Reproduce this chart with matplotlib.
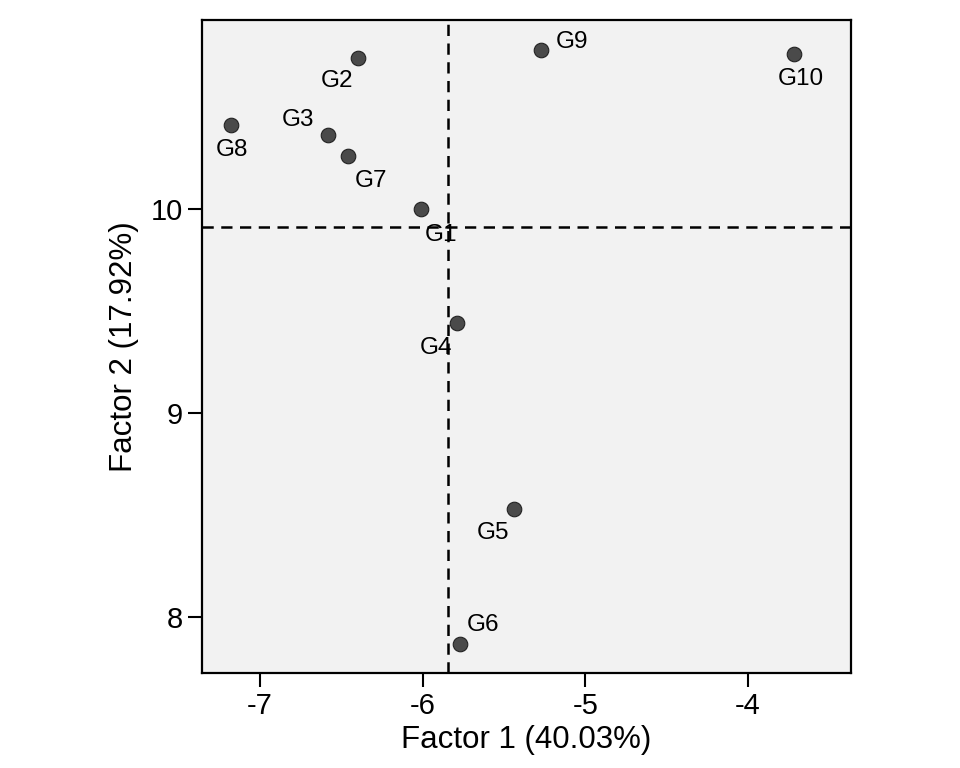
import matplotlib
matplotlib.use("Agg")
from matplotlib import pyplot as plt

plt.rcParams['font.family'] = ['Liberation Sans', 'DejaVu Sans']

genotypes = ['G1', 'G2', 'G3', 'G4', 'G5', 'G6', 'G7', 'G8', 'G9', 'G10']
factor1 = [-6.01, -6.40, -6.58, -5.79, -5.44, -5.77, -6.46, -7.18, -5.27, -3.72]
factor2 = [10.00, 10.74, 10.36, 9.44, 8.53, 7.87, 10.26, 10.41, 10.78, 10.76]
xLabel = 'Factor 1 (40.03%)'
yLabel = 'Factor 2 (17.92%)'
xMean = -5.846
yMean = 9.912

# label offsets in pixels (x right, y up)
labelShift = {'G1': (20, -26), 'G2': (-21, -23), 'G3': (-30, 15),
              'G4': (-21, -25), 'G5': (-21, -24), 'G6': (23, 19),
              'G7': (23, -25), 'G8': (1, -25), 'G9': (31, 8),
              'G10': (7, -25)}

fig = plt.figure(figsize=(9.6, 7.68), dpi=100)
ax = fig.add_axes([0.2104, 0.1237, 0.6761, 0.8503])
ax.set_facecolor('#f2f2f2')

ax.axvline(xMean, color='black', lw=1.8, ls=(0, (4.5, 3)), zorder=1)
ax.axhline(yMean, color='black', lw=1.8, ls=(0, (4.5, 3)), zorder=1)

ax.scatter(factor1, factor2, s=110, color='#4a4a4a', edgecolor='#222222',
           linewidth=0.8, zorder=3)
for g, x, y in zip(genotypes, factor1, factor2):
    dx, dy = labelShift[g]
    ax.annotate(g, (x, y), xytext=(dx, dy), textcoords='offset pixels',
                ha='center', va='center', fontsize=17.5, zorder=4)

ax.set_xlim(-7.356, -3.367)
ax.set_ylim(7.726, 10.926)
ax.set_xticks([-7, -6, -5, -4])
ax.set_xticklabels(['-7', '-6', '-5', '-4'])
ax.set_yticks([8, 9, 10])

for s in ax.spines.values():
    s.set_linewidth(1.6)
ax.tick_params(direction='out', length=10, width=1.5, labelsize=21, pad=4)
ax.set_xlabel(xLabel, fontsize=22.5, labelpad=3)
ax.set_ylabel(yLabel, fontsize=22.5, labelpad=8)

fig.savefig('out.png', dpi=100)
